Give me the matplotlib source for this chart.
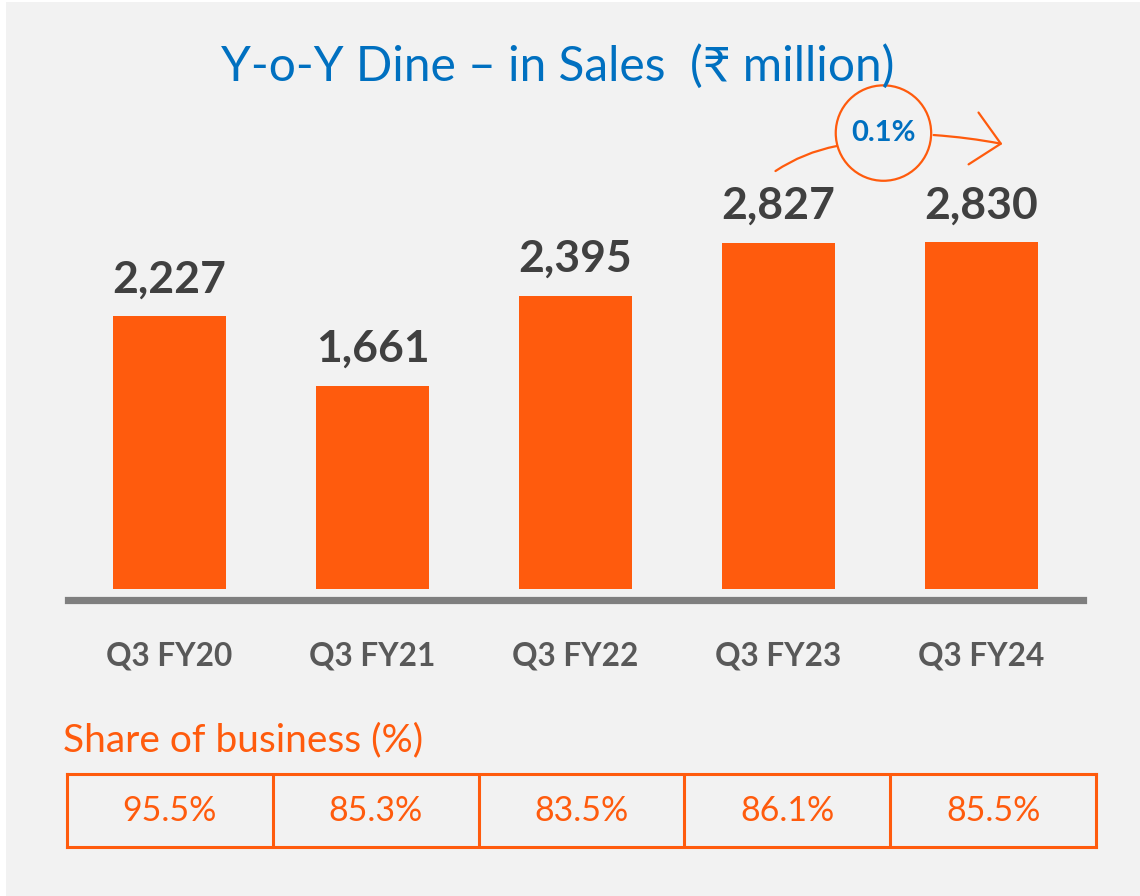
import matplotlib
matplotlib.use('Agg')
import matplotlib.pyplot as plt
from matplotlib.patches import Rectangle

# data
quarters = ['Q3 FY20', 'Q3 FY21', 'Q3 FY22', 'Q3 FY23', 'Q3 FY24']
sales = [2227, 1661, 2395, 2827, 2830]
share = ['95.5%', '85.3%', '83.5%', '86.1%', '85.5%']
growth = '0.1%'

orange = '#FF5B0D'
blue = '#0070C0'
bg = '#F2F2F2'

plt.rcParams['font.family'] = ['Lato', 'DejaVu Sans']

W, H = 1140, 896
fig = plt.figure(figsize=(W / 100, H / 100), dpi=100, facecolor='white')


def box(x0, y0, x1, y1):
    # pixel box (top-left origin) -> figure fraction
    return [x0 / W, 1 - y1 / H, (x1 - x0) / W, (y1 - y0) / H]


fig.patches.append(Rectangle((6 / W, 0), 1, 1 - 2 / H, transform=fig.transFigure,
                             facecolor=bg, edgecolor='none', zorder=-10))

fig.text(558 / W, 1 - 66 / H, 'Y-o-Y Dine \u2013 in Sales  (\u20b9 million)',
         ha='center', va='center', fontsize=34.5, color=blue)

# main bars
ax = fig.add_axes(box(68, 100, 1083, 599.5))
ax.set_facecolor('none')
x = list(range(len(quarters)))
ax.bar(x, sales, width=0.557, color=orange, zorder=2)
ax.set_xlim(-0.5, 4.5)
ax.set_ylim(-86, 3992)
for s in ['top', 'right', 'left']:
    ax.spines[s].set_visible(False)
ax.spines['bottom'].set_color('#7F7F7F')
ax.spines['bottom'].set_linewidth(5.2)
ax.set_yticks([])
ax.set_xticks(x)
ax.set_xticklabels(quarters, fontsize=22.7, fontweight='bold', color='#595959')
ax.tick_params(axis='x', length=0, pad=30)

for i, v in enumerate(sales):
    ax.annotate(f'{v:,}', xy=(i, v), xytext=(0, 17), textcoords='offset points',
                ha='center', va='baseline', fontsize=32, fontweight='bold',
                color='#404040')

# growth callout between the last two bars
ax.annotate(growth, xy=(3.517, 3722), ha='center', va='center', fontsize=21,
            fontweight='bold', color=blue, annotation_clip=False,
            bbox=dict(boxstyle='circle,pad=0.53', facecolor='none',
                      edgecolor=orange, linewidth=1.6))
ax.annotate('', xy=(3.286, 3616), xytext=(2.985, 3412), annotation_clip=False,
            arrowprops=dict(arrowstyle='-', color=orange, lw=1.6,
                            connectionstyle='arc3,rad=-0.1', shrinkA=0, shrinkB=0))
ax.annotate('', xy=(4.103, 3633), xytext=(3.764, 3706), annotation_clip=False,
            arrowprops=dict(arrowstyle='->,head_length=1.0,head_width=0.95',
                            mutation_scale=20, color=orange, lw=1.6,
                            connectionstyle='arc3,rad=-0.03', shrinkA=0, shrinkB=0))

# share of business table
fig.text(63 / W, 1 - 740 / H, 'Share of business (%)', ha='left', va='center',
         fontsize=28, color=orange)

tx = fig.add_axes(box(67, 774, 1096, 847))
tx.set_facecolor('none')
tx.set_xlim(0, 5)
tx.set_ylim(0, 1)
tx.set_xticks([])
tx.set_yticks([])
for s in tx.spines.values():
    s.set_color(orange)
    s.set_linewidth(2.2)
for i in range(1, 5):
    tx.axvline(i, color=orange, lw=2.2)
for i, s in enumerate(share):
    tx.text(i + 0.5, 0.5, s, ha='center', va='center', fontsize=24.5, color=orange)

fig.savefig('out.png', dpi=100, facecolor=fig.get_facecolor())
